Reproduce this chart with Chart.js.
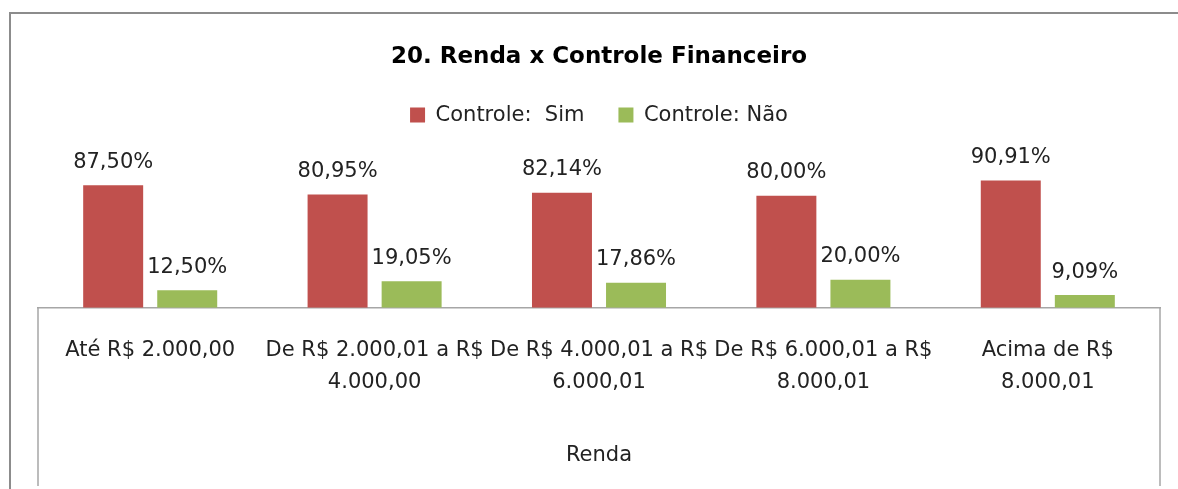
<!DOCTYPE html>
<html>
<head>
<meta charset="utf-8">
<script src="https://cdn.jsdelivr.net/npm/chart.js@4"></script>
<style>
  body { margin: 0; background: #fff; }
</style>
</head>
<body>
<canvas id="chart" width="1178" height="489"></canvas>
<script>
const categories = [
  'Até R$ 2.000,00',
  ['De R$ 2.000,01 a R$', '4.000,00'],
  ['De R$ 4.000,01 a R$', '6.000,01'],
  ['De R$ 6.000,01 a R$', '8.000,01'],
  ['Acima de R$', '8.000,01']
];
const controleSim = [87.50, 80.95, 82.14, 80.00, 90.91];
const controleNao = [12.50, 19.05, 17.86, 20.00, 9.09];

const FONT = 'DejaVu Sans';

// value labels above each bar
const barLabels = {
  id: 'barLabels',
  afterDatasetsDraw(chart) {
    const ctx = chart.ctx;
    ctx.save();
    ctx.font = '21px ' + FONT;
    ctx.fillStyle = '#222';
    ctx.textAlign = 'center';
    ctx.textBaseline = 'middle';
    chart.data.datasets.forEach((ds, i) => {
      chart.getDatasetMeta(i).data.forEach((bar, j) => {
        const txt = ds.data[j].toFixed(2).replace('.', ',') + '%';
        ctx.fillText(txt, bar.x, bar.y - 23);
      });
    });
    ctx.restore();
  }
};

// outer frame and the box under the axis
const frame = {
  id: 'frame',
  afterDraw(chart) {
    const ctx = chart.ctx;
    const a = chart.chartArea;
    ctx.save();
    ctx.strokeStyle = '#8c8c8c';
    ctx.lineWidth = 2;
    ctx.beginPath();
    ctx.moveTo(10, chart.height);
    ctx.lineTo(10, 13);
    ctx.lineTo(chart.width, 13);
    ctx.stroke();
    ctx.strokeStyle = '#a6a6a6';
    ctx.lineWidth = 1.5;
    ctx.beginPath();
    ctx.moveTo(a.left, a.bottom);
    ctx.lineTo(a.left, 486);
    ctx.moveTo(a.right, a.bottom);
    ctx.lineTo(a.right, 486);
    ctx.stroke();
    ctx.restore();
  }
};

new Chart(document.getElementById('chart'), {
  type: 'bar',
  data: {
    labels: categories,
    datasets: [
      {
        label: 'Controle:  Sim',
        data: controleSim,
        backgroundColor: '#C0504D',
        categoryPercentage: 0.66,
        barPercentage: 0.81
      },
      {
        label: 'Controle: Não',
        data: controleNao,
        backgroundColor: '#9BBB59',
        categoryPercentage: 0.66,
        barPercentage: 0.81
      }
    ]
  },
  options: {
    responsive: false,
    animation: false,
    layout: { padding: { left: 38, right: 18, top: 0, bottom: 21 } },
    plugins: {
      title: {
        display: true,
        text: '20. Renda x Controle Financeiro',
        color: '#000',
        font: { family: FONT, size: 23, weight: 'bold' },
        padding: { top: 43, bottom: 0 }
      },
      legend: {
        labels: {
          color: '#222',
          font: { family: FONT, size: 21 },
          boxWidth: 15,
          boxHeight: 15,
          padding: 34
        }
      },
      tooltip: { enabled: false }
    },
    scales: {
      x: {
        grid: { display: false, drawTicks: false },
        border: { display: true, color: '#a6a6a6', width: 1.5 },
        ticks: {
          color: '#222',
          font: { family: FONT, size: 21, lineHeight: 1.5 },
          padding: 27,
          maxRotation: 0
        },
        title: {
          display: true,
          text: 'Renda',
          color: '#222',
          font: { family: FONT, size: 21 },
          padding: { top: 18, bottom: 0 }
        }
      },
      y: {
        display: false,
        min: 0,
        max: 123
      }
    }
  },
  plugins: [barLabels, frame]
});
</script>
</body>
</html>
